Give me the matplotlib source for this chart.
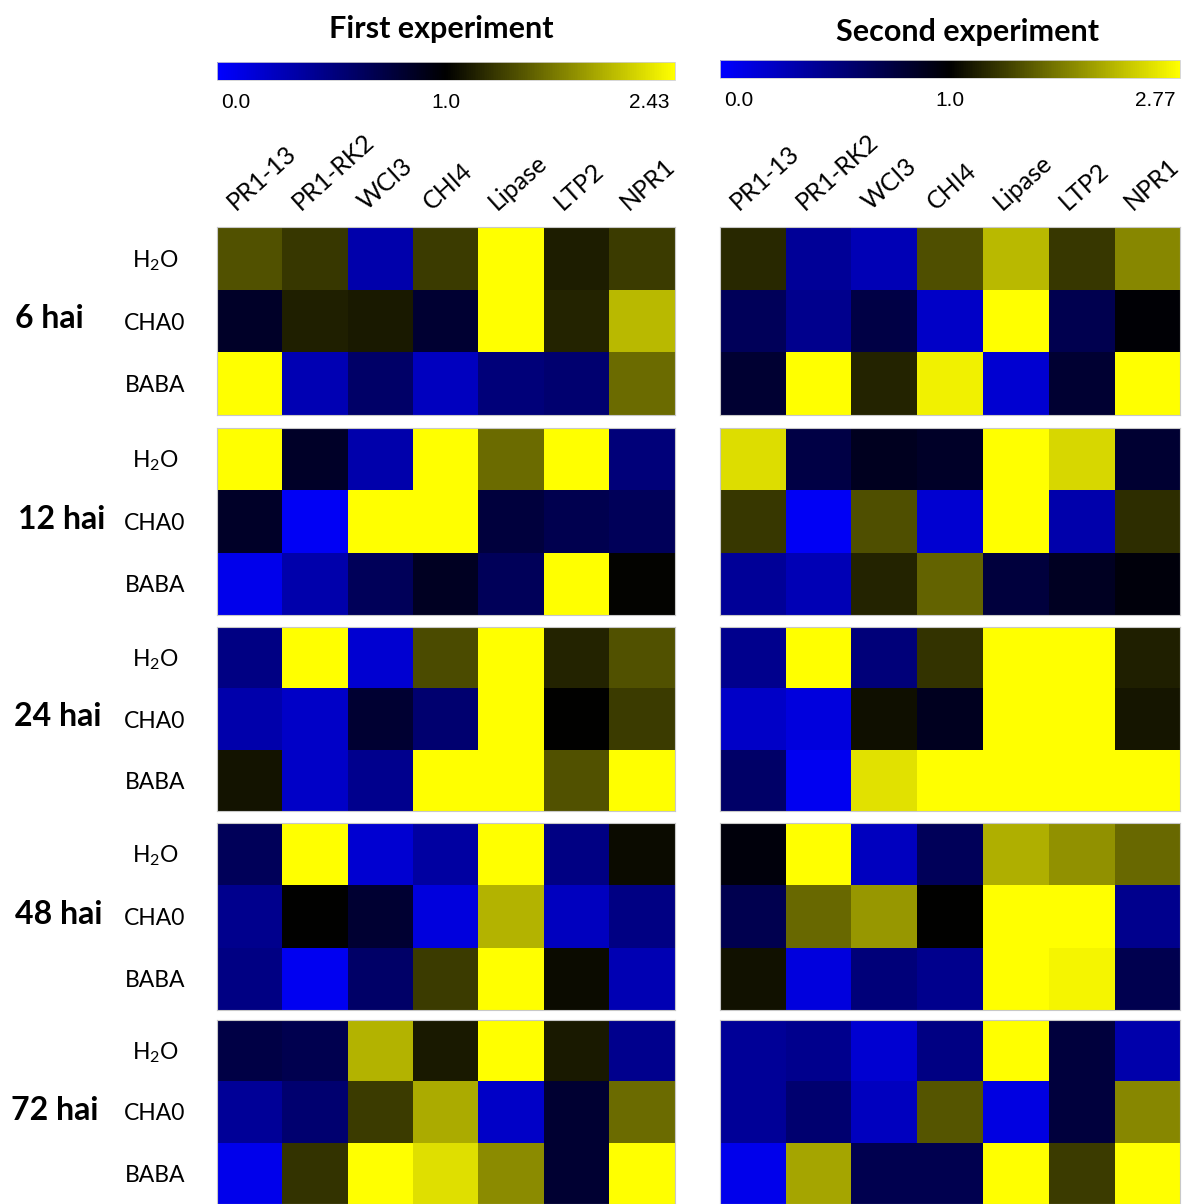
import numpy as np
import matplotlib.pyplot as plt
from matplotlib.colors import LinearSegmentedColormap, TwoSlopeNorm

plt.rcParams['font.family'] = ['Lato', 'DejaVu Sans']
plt.rcParams['mathtext.fontset'] = 'custom'
plt.rcParams['mathtext.rm'] = 'Lato'
plt.rcParams['mathtext.it'] = 'Lato:italic'

genes = ['PR1-13', 'PR1-RK2', 'WCI3', 'CHI4', 'Lipase', 'LTP2', 'NPR1']
treatments = ['H$_2$O', 'CHA0', 'BABA']
times = ['6 hai', '12 hai', '24 hai', '48 hai', '72 hai']

# first experiment, rows = H2O, CHA0, BABA
first_6h = [[1.45, 1.31, 0.33, 1.33, 2.43, 1.16, 1.33],
            [0.84, 1.17, 1.14, 0.80, 2.43, 1.20, 2.03],
            [2.43, 0.30, 0.60, 0.25, 0.53, 0.57, 1.60]]
first_12h = [[2.43, 0.84, 0.33, 2.43, 1.60, 2.43, 0.53],
             [0.84, 0.04, 2.43, 2.43, 0.76, 0.69, 0.65],
             [0.08, 0.33, 0.65, 0.86, 0.65, 2.43, 1.02]]
first_24h = [[0.49, 2.43, 0.18, 1.42, 2.43, 1.20, 1.45],
             [0.33, 0.22, 0.80, 0.57, 2.43, 1.00, 1.33],
             [1.11, 0.22, 0.45, 2.43, 2.43, 1.45, 2.43]]
first_48h = [[0.65, 2.43, 0.18, 0.37, 2.43, 0.49, 1.06],
             [0.45, 1.00, 0.80, 0.14, 2.00, 0.25, 0.49],
             [0.49, 0.06, 0.60, 1.33, 2.43, 1.06, 0.30]]
first_72h = [[0.73, 0.69, 2.00, 1.14, 2.43, 1.14, 0.45],
             [0.41, 0.57, 1.33, 1.95, 0.22, 0.80, 1.60],
             [0.08, 1.28, 2.43, 2.25, 1.78, 0.80, 2.43]]

# second experiment
second_6h = [[1.29, 0.41, 0.29, 1.55, 2.28, 1.38, 1.93],
             [0.65, 0.45, 0.73, 0.22, 2.77, 0.69, 0.98],
             [0.80, 2.77, 1.24, 2.66, 0.18, 0.80, 2.77]]
second_12h = [[2.53, 0.73, 0.88, 0.84, 2.77, 2.49, 0.80],
              [1.38, 0.04, 1.55, 0.18, 2.77, 0.33, 1.31],
              [0.41, 0.29, 1.24, 1.69, 0.76, 0.86, 0.96]]
second_24h = [[0.45, 2.77, 0.53, 1.35, 2.77, 2.77, 1.21],
              [0.22, 0.14, 1.10, 0.88, 2.77, 2.77, 1.14],
              [0.60, 0.06, 2.56, 2.77, 2.77, 2.77, 2.77]]
second_48h = [[0.96, 2.77, 0.25, 0.65, 2.21, 2.00, 1.73],
              [0.69, 1.73, 2.04, 1.00, 2.77, 2.77, 0.45],
              [1.12, 0.14, 0.53, 0.45, 2.77, 2.70, 0.69]]
second_72h = [[0.41, 0.45, 0.18, 0.49, 2.77, 0.76, 0.33],
              [0.41, 0.57, 0.25, 1.59, 0.12, 0.76, 1.93],
              [0.08, 2.14, 0.69, 0.69, 2.77, 1.41, 2.77]]

first_groups = [first_6h, first_12h, first_24h, first_48h, first_72h]
second_groups = [second_6h, second_12h, second_24h, second_48h, second_72h]
first_max = 2.43
second_max = 2.77

W, H = 1194, 1204
fig = plt.figure(figsize=(W / 100, H / 100), dpi=100)


def box(x, y, w, h):
    return [x / W, 1 - (y + h) / H, w / W, h / H]


cmap = LinearSegmentedColormap.from_list('byk', ['#0000ff', '#000000', '#ffff00'])

group_tops = [227, 428, 627, 823, 1020]
group_h = [188, 187, 184, 187, 184]
time_x = [49, 62, 58, 59, 55]

panels = [
    (217, 458, first_groups, first_max, 'First experiment', 441, 29, 62, 102),
    (720, 460, second_groups, second_max, 'Second experiment', 968, 32, 60, 100),
]

for x0, w, groups, vmax, title, tx, ty, cby, lby in panels:
    norm = TwoSlopeNorm(vmin=0, vcenter=1, vmax=vmax)

    # heatmap blocks
    for top, h, data in zip(group_tops, group_h, groups):
        ax = fig.add_axes(box(x0, top, w, h))
        ax.imshow(np.array(data), cmap=cmap, norm=norm, aspect='auto',
                  interpolation='nearest')
        ax.set_xticks([])
        ax.set_yticks([])
        for s in ax.spines.values():
            s.set_color('#c8c8c8')
            s.set_linewidth(0.8)

    # colour bar
    cax = fig.add_axes(box(x0, cby, w, 18))
    sm = plt.cm.ScalarMappable(norm=norm, cmap=cmap)
    cb = fig.colorbar(sm, cax=cax, orientation='horizontal')
    cb.set_ticks([])
    cb.outline.set_edgecolor('#d0d0d0')
    cb.outline.set_linewidth(0.6)
    fig.text((x0 + 4) / W, 1 - lby / H, '0.0', ha='left', va='center',
             fontsize=15, family='Liberation Sans')
    fig.text((x0 + w / 2) / W, 1 - lby / H, '1.0', ha='center', va='center',
             fontsize=15, family='Liberation Sans')
    fig.text((x0 + w - 5) / W, 1 - lby / H, '%.2f' % vmax, ha='right',
             va='center', fontsize=15, family='Liberation Sans')

    fig.text(tx / W, 1 - ty / H, title, ha='center', va='center',
             fontsize=22, fontweight='bold')

    # gene names
    cw = w / len(genes)
    for i, g in enumerate(genes):
        cx = x0 + (i + 0.5) * cw
        fig.text((cx - 14) / W, 1 - 211 / H, g, rotation=42,
                 rotation_mode='anchor', ha='left', va='baseline', fontsize=18)

# row and time labels
for top, h, t, x in zip(group_tops, group_h, times, time_x):
    rh = h / 3
    for j, tr in enumerate(treatments):
        fig.text(155 / W, 1 - (top + (j + 0.5) * rh + 2) / H, tr,
                 ha='center', va='center', fontsize=16.5)
    fig.text(x / W, 1 - (top + 1.5 * rh - 2) / H, t, ha='center',
             va='center', fontsize=23, fontweight='bold')

fig.savefig('out.png', dpi=100)
